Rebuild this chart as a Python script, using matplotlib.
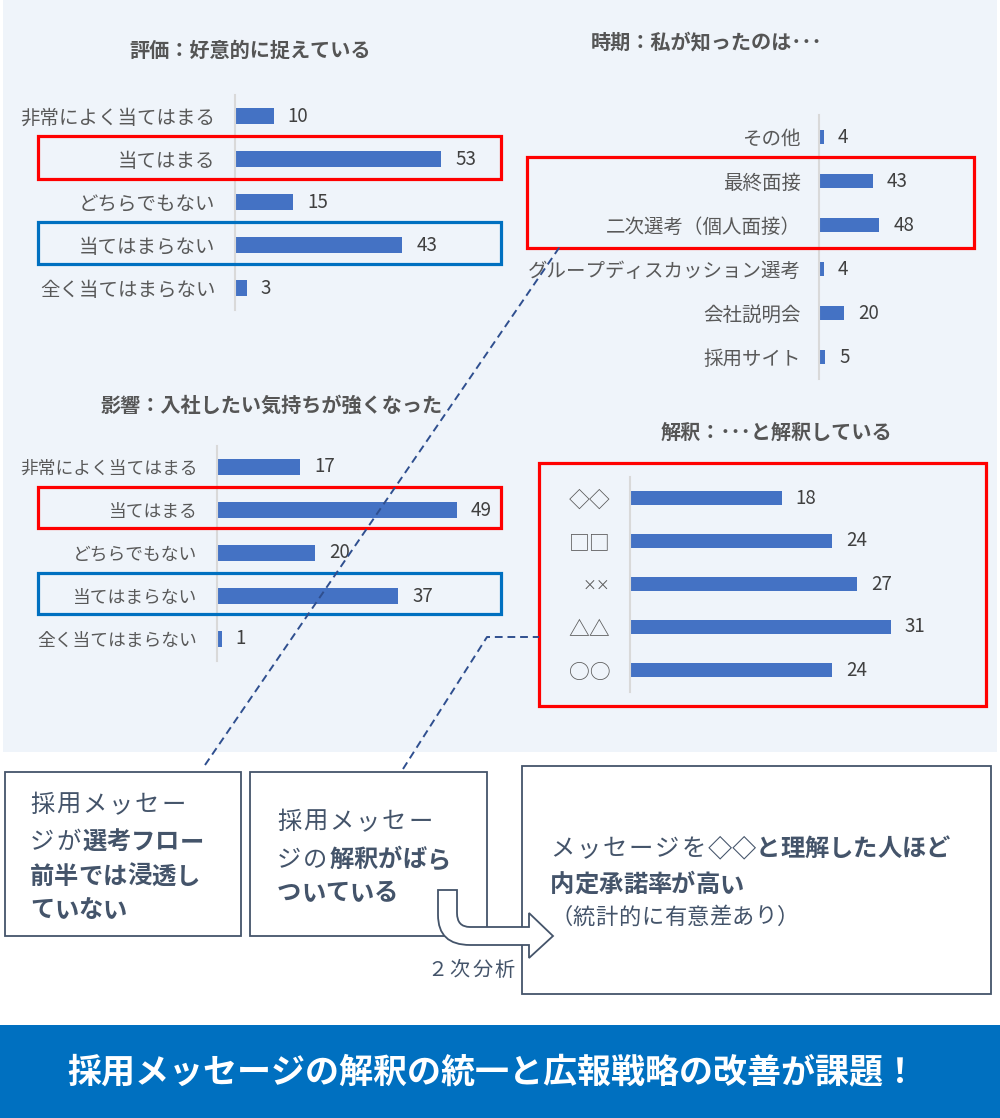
import matplotlib
matplotlib.use('Agg')
import matplotlib.pyplot as plt
from matplotlib.patches import Rectangle, PathPatch
from matplotlib.path import Path

plt.rcParams['font.family'] = ['Noto Sans CJK JP', 'DejaVu Sans']

W, H = 1000, 1118

# data
hyouka_title = '評価：好意的に捉えている'
hyouka_labels = ['非常によく当てはまる', '当てはまる', 'どちらでもない', '当てはまらない', '全く当てはまらない']
hyouka_values = [10, 53, 15, 43, 3]

jiki_title = '時期：私が知ったのは･･･'
jiki_labels = ['その他', '最終面接', '二次選考（個人面接）', 'グループディスカッション選考', '会社説明会', '採用サイト']
jiki_values = [4, 43, 48, 4, 20, 5]

eikyou_title = '影響：入社したい気持ちが強くなった'
eikyou_labels = ['非常によく当てはまる', '当てはまる', 'どちらでもない', '当てはまらない', '全く当てはまらない']
eikyou_values = [17, 49, 20, 37, 1]

kaishaku_title = '解釈：･･･と解釈している'
kaishaku_labels = ['◇◇', '□□', '××', '△△', '○○']
kaishaku_values = [18, 24, 27, 31, 24]

banner_text = '採用メッセージの解釈の統一と広報戦略の改善が課題！'

BAR = '#4472C4'
SLATE = '#44546A'
RED = '#FF0000'
BLUE = '#0070C0'

fig = plt.figure(figsize=(W / 100, H / 100), dpi=100)


def px_axes(left, top, right, bottom):
    return fig.add_axes([left / W, 1 - bottom / H, (right - left) / W, (bottom - top) / H])


bg = px_axes(0, 0, W, H)
bg.set_xlim(0, W)
bg.set_ylim(H, 0)
bg.axis('off')
bg.set_zorder(0)
bg.add_patch(Rectangle((3, 0), 994, 752, color='#EFF4FA', lw=0))
bg.add_patch(Rectangle((0, 1025), 1000, 93, color=BLUE, lw=0))


def bar_chart(left, top, bottom, scale, xmax, labels, values, pad, lsize, height):
    ax = px_axes(left, top, left + scale * xmax, bottom)
    ax.set_zorder(5)
    ax.patch.set_visible(False)
    n = len(values)
    bars = ax.barh(range(n), values, height=height, color=BAR)
    ax.set_xlim(0, xmax)
    ax.set_ylim(n - 0.5, -0.5)
    ax.set_yticks(range(n), labels=labels, fontsize=lsize, color='#595959')
    ax.tick_params(axis='y', length=0, pad=pad)
    ax.set_xticks([])
    for s in ['top', 'right', 'bottom']:
        ax.spines[s].set_visible(False)
    ax.spines['left'].set_color('#D9D9D9')
    ax.spines['left'].set_linewidth(1.5)
    ax.bar_label(bars, padding=10, fontsize=13.5, color='#404040')
    return ax


bar_chart(235, 94.5, 309.5, 3.89, 60, hyouka_labels, hyouka_values, 14, 14, 0.35)
bar_chart(819, 115, 379, 1.256, 60, jiki_labels, jiki_values, 13, 14, 0.32)
bar_chart(217, 445.5, 660.5, 4.9, 55, eikyou_labels, eikyou_values, 14, 12.8, 0.35)
ax4 = bar_chart(630, 476.5, 691.5, 8.42, 35, kaishaku_labels, kaishaku_values, 14, 15, 0.33)
ax4.get_yticklabels()[2].set_fontsize(10)

fg = px_axes(0, 0, W, H)
fg.set_xlim(0, W)
fg.set_ylim(H, 0)
fg.axis('off')
fg.set_zorder(10)
fg.patch.set_visible(False)

# chart titles
for t, (x, y) in [(hyouka_title, (250, 50)), (jiki_title, (707, 42)),
                  (eikyou_title, (272, 405)), (kaishaku_title, (776, 432))]:
    fg.text(x, y, t, fontsize=14.5, fontweight='bold', color='#555555',
            ha='center', va='center')

# highlight boxes
def box(x0, y0, x1, y1, color, lw, face='none', z=2):
    fg.add_patch(Rectangle((x0, y0), x1 - x0, y1 - y0, fill=face != 'none',
                           facecolor=face, edgecolor=color, lw=lw, zorder=z))


box(38, 136, 501, 179, RED, 2.3)
box(38, 222, 501, 264, BLUE, 2.3)
box(527, 157, 974, 248, RED, 2.3)
box(38, 487, 501, 528, RED, 2.3)
box(38, 573, 501, 614, BLUE, 2.3)
box(539, 463, 986, 706, RED, 2.3)

# dashed connectors
dash = dict(color='#2F4F8F', lw=1.4, ls=(0, (4, 2.5)), zorder=4)
fg.plot([205, 561], [765, 245], **dash)
fg.plot([403, 487, 539], [769, 637, 637], **dash)

# bottom boxes
box(5, 772, 241, 936, SLATE, 1.3, face='white')
box(250, 772, 487, 936, SLATE, 1.3, face='white')
box(522, 766, 991, 994, SLATE, 1.3, face='white')

renderer = fig.canvas.get_renderer()


def runs(x, y, parts, size=17.5, spacing=2.0):
    # normal-weight runs are slightly letter-spaced in the original
    for s, bold in parts:
        gap = 0 if bold else spacing
        for ch in s:
            t = fg.text(x, y, ch, fontsize=size, fontweight='bold' if bold else 'normal',
                        color=SLATE, ha='left', va='center', zorder=6)
            x += t.get_window_extent(renderer).width + gap


runs(30, 805, [('採用メッセー', False)])
runs(30, 842, [('ジが', False), ('選考フロー', True)])
runs(30, 877, [('前半では浸透し', True)])
runs(30, 910, [('ていない', True)])

runs(277, 822, [('採用メッセー', False)])
runs(277, 860, [('ジの', False), ('解釈がばら', True)])
runs(277, 893, [('ついている', True)])

runs(550, 849, [('メッセージを', False), ('◇◇と理解した人ほど', True)])
runs(550, 885, [('内定承諾率が高い', True)])
runs(550, 917, [('（統計的に有意差あり）', False)], size=16, spacing=0.5)

# bent arrow
verts = [(438, 890), (457, 890), (457, 913), (457, 927), (470, 927), (529, 927),
         (529, 913), (553, 936), (529, 958), (529, 945), (470, 945), (438, 945),
         (438, 915), (438, 890)]
codes = [Path.MOVETO, Path.LINETO, Path.LINETO, Path.CURVE3, Path.CURVE3, Path.LINETO,
         Path.LINETO, Path.LINETO, Path.LINETO, Path.LINETO, Path.LINETO, Path.CURVE3,
         Path.CURVE3, Path.CLOSEPOLY]
fg.add_patch(PathPatch(Path(verts, codes), facecolor='white', edgecolor=SLATE,
                       lw=1.3, zorder=7))
runs(427, 970, [('２次分析', False)], size=14.5, spacing=2.5)

fg.text(492, 1073, banner_text, fontsize=24.5, fontweight='bold', color='white',
        ha='center', va='center')

fig.savefig('out.png', dpi=100)
